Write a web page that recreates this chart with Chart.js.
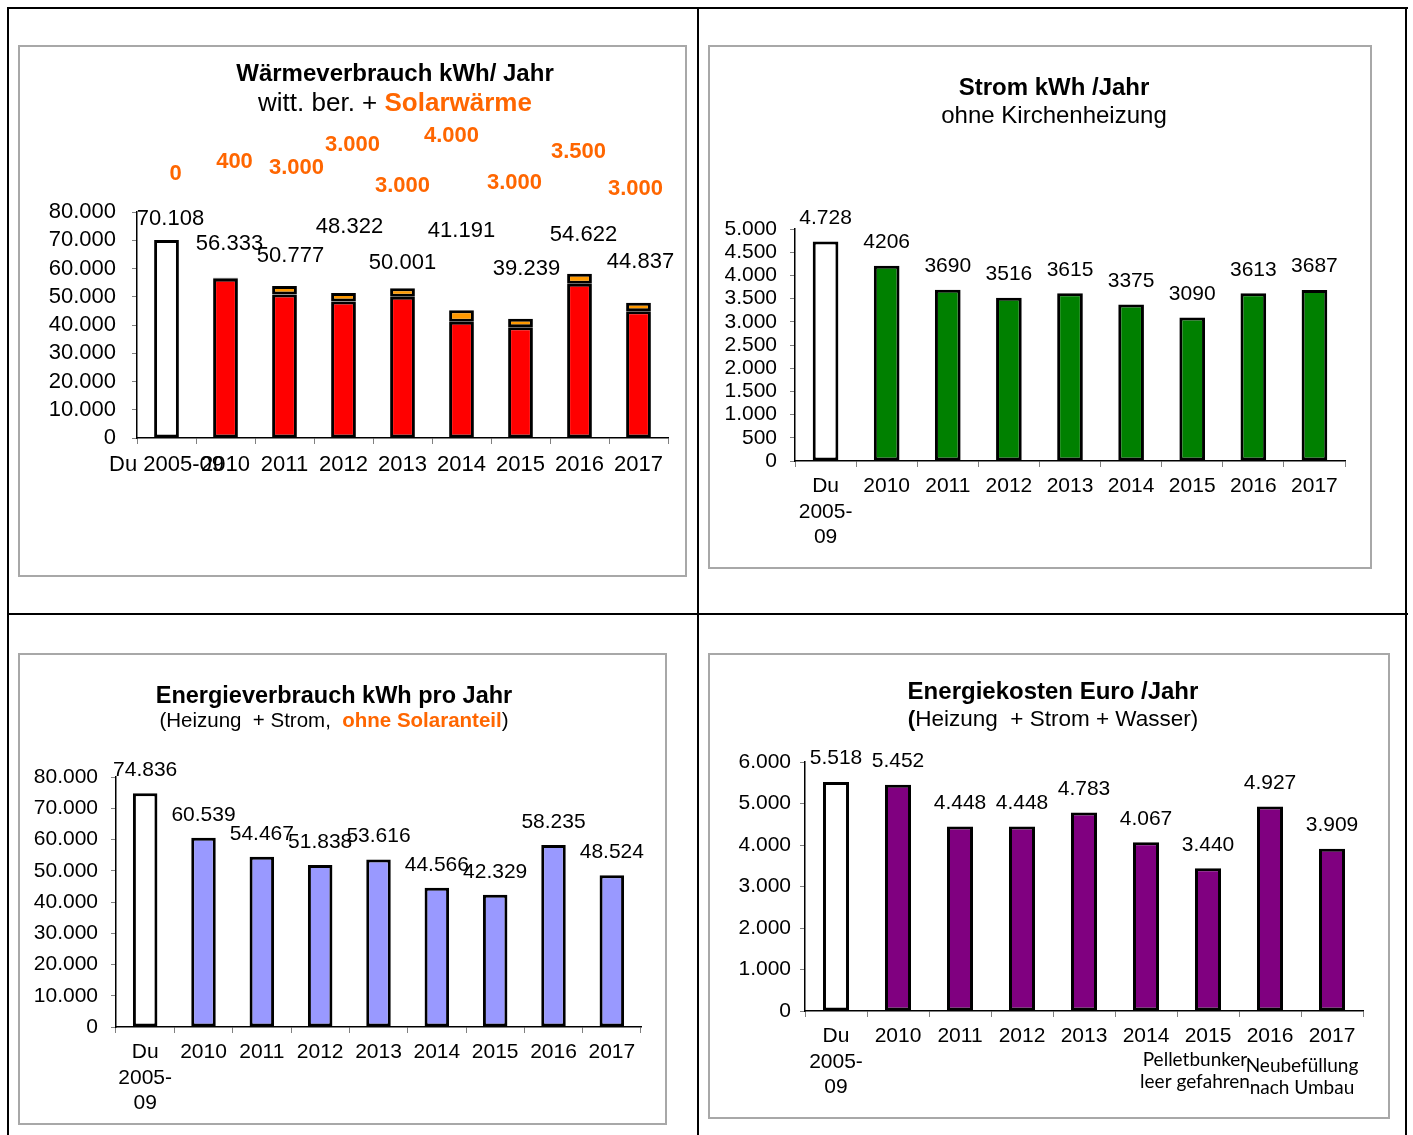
<!DOCTYPE html>
<html lang="de">
<head>
<meta charset="utf-8">
<title>Energiebilanz</title>
<script src="https://cdn.jsdelivr.net/npm/chart.js@4.4.1/dist/chart.umd.min.js"></script>
<style>
  body { margin: 0; background: #fff; }
  #page { position: relative; width: 1413px; height: 1135px; overflow: hidden; font-family: "Liberation Sans", Arial, sans-serif; color: #000; }
  .rule { position: absolute; background: #000; }
  .box { position: absolute; border: 2px solid #a8a8a8; box-sizing: border-box; }
  canvas { position: absolute; }
  .ttl { position: absolute; width: 640px; text-align: center; white-space: pre; line-height: 30px; }
  .orange { color: #ff6600; font-weight: bold; }
</style>
</head>
<body>
<div id="page">
  <div class="rule" style="left:7px;top:7px;width:1401px;height:2px"></div>
  <div class="rule" style="left:7px;top:613px;width:1401px;height:2px"></div>
  <div class="rule" style="left:7px;top:7px;width:2px;height:1128px"></div>
  <div class="rule" style="left:697px;top:7px;width:2px;height:1128px"></div>
  <div class="rule" style="left:1405px;top:7px;width:2px;height:1128px"></div>

  <div class="box" style="left:18px;top:45px;width:669px;height:532px"></div>
  <div class="box" style="left:708px;top:45px;width:664px;height:524px"></div>
  <div class="box" style="left:18px;top:653px;width:649px;height:472px"></div>
  <div class="box" style="left:708px;top:653px;width:682px;height:466px"></div>

  <canvas id="heatChart" width="668" height="531" style="left:18px;top:45px"></canvas>
  <canvas id="powerChart" width="663" height="523" style="left:708px;top:45px"></canvas>
  <canvas id="energyChart" width="648" height="471" style="left:18px;top:653px"></canvas>
  <canvas id="costChart" width="681" height="465" style="left:708px;top:653px"></canvas>

  <div class="ttl" style="left:75px;top:58px;font-weight:bold;font-size:24px">Wärmeverbrauch kWh/ Jahr</div>
  <div class="ttl" style="left:75px;top:87px;font-size:26px">witt. ber. + <span class="orange">Solarwärme</span></div>
  <div class="ttl" style="left:734px;top:72px;font-weight:bold;font-size:24px">Strom kWh /Jahr</div>
  <div class="ttl" style="left:734px;top:100px;font-size:24px">ohne Kirchenheizung</div>
  <div class="ttl" style="left:14px;top:680px;font-weight:bold;font-size:23.5px">Energieverbrauch kWh pro Jahr</div>
  <div class="ttl" style="left:14px;top:705px;font-size:20.5px">(Heizung  + Strom,  <span class="orange">ohne Solaranteil</span>)</div>
  <div class="ttl" style="left:733px;top:676px;font-weight:bold;font-size:24px">Energiekosten Euro /Jahr</div>
  <div class="ttl" style="left:733px;top:704px;font-size:22.5px"><b>(</b>Heizung  + Strom + Wasser)</div>
</div>

<script>
    // categories
    const categories = ['Du 2005-09', '2010', '2011', '2012', '2013', '2014', '2015', '2016', '2017'];
    const categoriesWrapped = [['Du', '2005-', '09'], '2010', '2011', '2012', '2013', '2014', '2015', '2016', '2017'];

    // series values
    const heatValues = [70108, 56333, 50777, 48322, 50001, 41191, 39239, 54622, 44837];
    const solarValues = [0, 400, 3000, 3000, 3000, 4000, 3000, 3500, 3000];
    const powerValues = [4728, 4206, 3690, 3516, 3615, 3375, 3090, 3613, 3687];
    const energyValues = [74836, 60539, 54467, 51838, 53616, 44566, 42329, 58235, 48524];
    const costValues = [5518, 5452, 4448, 4448, 4783, 4067, 3440, 4927, 3909];
    const costNotes = [null, null, null, null, null, null, ['Pelletbunker', 'leer gefahren'], ['Neubefüllung', 'nach Umbau'], null];

    // label placement in the heat chart (hand placed in the original)
    const heatLabelDx = [4, 4, 6, 6, 0, 0, 6, 4, 2];
    const heatLabelDy = [21, 34, 30, 66, 25, 79, 50, 39, 41];
    const solarLabelDx = [9, 9, 12, 9, 0, -10, -6, -1, -3];
    const solarLabelDy = [38, 50, 44, 67, 26, 76, 29, 60, 23];
    const noteDx = [0, 0, 0, 0, 0, 0, -13, 32, 0];
    const noteDy = [0, 0, 0, 0, 0, 0, 49, 55, 0];

    const FONT = '"Liberation Sans", Arial, sans-serif';
    Chart.defaults.font.family = FONT;
    Chart.defaults.color = '#000';

    function fmt(v) {
        return String(v).replace(/\B(?=(\d{3})+(?!\d))/g, '.');
    }

    function barColors(base) {
        return categories.map((c, i) => i === 0 ? '#ffffff' : base);
    }

    // draws text above bars / above the plot / below the axis
    const textLayer = {
        id: 'textLayer',
        afterDatasetsDraw(chart, args, opts) {
            const ctx = chart.ctx;
            const metas = chart.getSortedVisibleDatasetMetas();
            const topMeta = metas[metas.length - 1];
            (opts.groups || []).forEach(g => {
                ctx.save();
                ctx.font = g.font;
                ctx.fillStyle = g.color || '#000';
                ctx.textAlign = 'center';
                ctx.textBaseline = 'middle';
                g.texts.forEach((t, i) => {
                    if (t === null || t === undefined) return;
                    const bar = topMeta.data[i];
                    const dx = Array.isArray(g.dx) ? g.dx[i] : (g.dx || 0);
                    const dy = Array.isArray(g.dy) ? g.dy[i] : (g.dy || 0);
                    let y;
                    if (g.anchor === 'area') y = chart.chartArea.top - dy;
                    else if (g.anchor === 'axis') y = chart.chartArea.bottom + dy;
                    else y = bar.y - dy;
                    const lines = Array.isArray(t) ? t : [t];
                    lines.forEach((line, k) => {
                        ctx.fillText(line, bar.x + dx, y + k * (g.lineHeight || 0));
                    });
                });
                ctx.restore();
            });
        }
    };

    function scales(o) {
        return {
            x: {
                stacked: !!o.stacked,
                grid: { display: true, drawOnChartArea: false, drawTicks: true, tickLength: 6, color: '#808080', offset: true },
                border: { display: true, color: '#000', width: 1.5 },
                ticks: { color: '#000', font: { size: o.font }, padding: o.xPad, autoSkip: false, maxRotation: 0, minRotation: 0 },
                afterFit: s => { s.height = o.xHeight; }
            },
            y: {
                stacked: !!o.stacked,
                min: 0,
                max: o.max,
                grid: { display: true, drawOnChartArea: false, drawTicks: true, tickLength: 5, color: '#808080' },
                border: { display: true, color: '#000', width: 1.5 },
                ticks: { stepSize: o.step, autoSkip: false, color: '#000', font: { size: o.font }, padding: o.yPad, callback: v => fmt(v) },
                afterFit: s => { s.width = o.yWidth; }
            }
        };
    }

    function barSet(values, colors) {
        return {
            data: values,
            backgroundColor: colors,
            borderColor: '#000',
            borderWidth: 3,
            borderSkipped: false,
            categoryPercentage: 1,
            barPercentage: 0.42
        };
    }

    function makeChart(id, labels, datasets, o, groups) {
        return new Chart(document.getElementById(id), {
            type: 'bar',
            data: { labels: labels, datasets: datasets },
            options: {
                responsive: false,
                animation: false,
                devicePixelRatio: 1,
                layout: { padding: { top: o.top, right: o.right, left: 0, bottom: 0 } },
                plugins: {
                    legend: { display: false },
                    tooltip: { enabled: false },
                    textLayer: { groups: groups }
                },
                scales: scales(o)
            },
            plugins: [textLayer]
        });
    }

    // Wärmeverbrauch
    makeChart('heatChart', categories,
        [barSet(heatValues, barColors('#ff0000')), barSet(solarValues, barColors('#ff9900'))],
        { stacked: true, max: 80000, step: 10000, font: 22, xPad: 8, yPad: 16, xHeight: 138, yWidth: 119, top: 167, right: 18 },
        [
            { texts: heatValues.map(fmt), dx: heatLabelDx, dy: heatLabelDy, font: '22px ' + FONT },
            { texts: solarValues.map(fmt), dx: solarLabelDx, dy: solarLabelDy, anchor: 'area', font: 'bold 22px ' + FONT, color: '#ff6600' }
        ]);

    // Strom
    makeChart('powerChart', categoriesWrapped,
        [barSet(powerValues, barColors('#008000'))],
        { max: 5000, step: 500, font: 21, xPad: 7, yPad: 13, xHeight: 107, yWidth: 87, top: 184, right: 26 },
        [
            { texts: powerValues.map((v, i) => i === 0 ? fmt(v) : String(v)), dy: 23.5, font: '21px ' + FONT }
        ]);

    // Energieverbrauch
    makeChart('energyChart', categoriesWrapped,
        [barSet(energyValues, barColors('#9999ff'))],
        { max: 80000, step: 10000, font: 21, xPad: 7, yPad: 13, xHeight: 97, yWidth: 98, top: 124, right: 25 },
        [
            { texts: energyValues.map(fmt), dy: 23, font: '21px ' + FONT }
        ]);

    // Energiekosten
    makeChart('costChart', categoriesWrapped,
        [barSet(costValues, barColors('#800080'))],
        { max: 6000, step: 1000, font: 21, xPad: 7, yPad: 9, xHeight: 107, yWidth: 97, top: 109, right: 26 },
        [
            { texts: costValues.map(fmt), dy: 23.5, font: '21px ' + FONT },
            { texts: costNotes, dx: noteDx, dy: noteDy, anchor: 'axis', lineHeight: 22, font: '19px Lato, "Open Sans", sans-serif' }
        ]);
</script>
</body>
</html>
